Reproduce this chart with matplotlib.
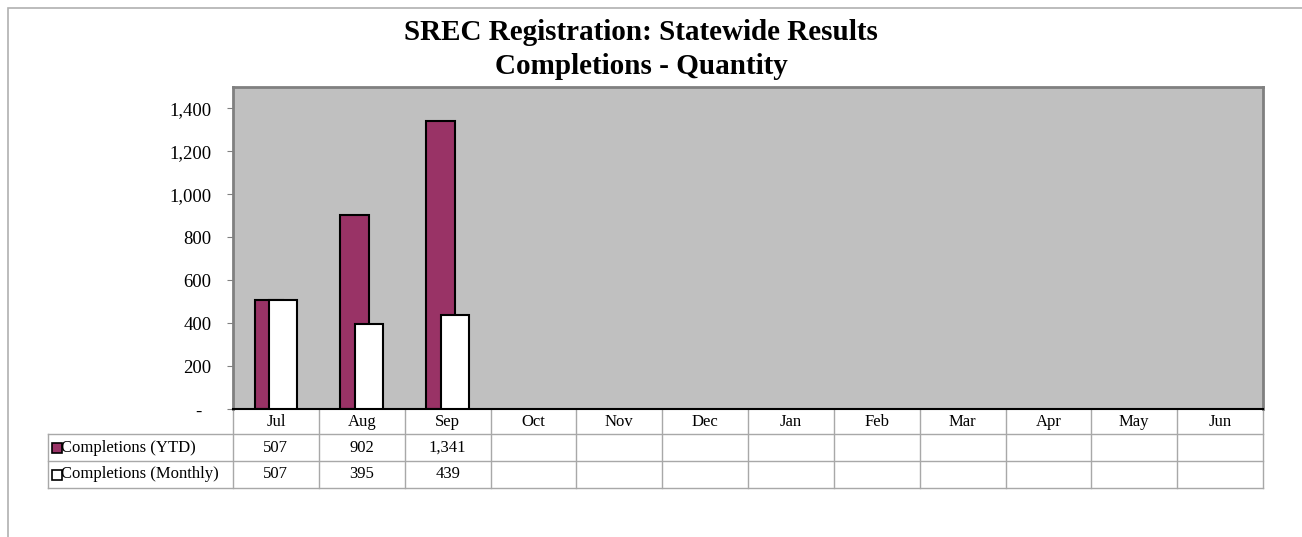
import matplotlib
matplotlib.use('Agg')
import matplotlib.pyplot as plt
import numpy as np
from matplotlib.lines import Line2D
from matplotlib.patches import Rectangle

plt.rcParams['font.family'] = ['Liberation Serif', 'DejaVu Serif']

months = ['Jul', 'Aug', 'Sep', 'Oct', 'Nov', 'Dec',
          'Jan', 'Feb', 'Mar', 'Apr', 'May', 'Jun']
ytd = [507, 902, 1341]
monthly = [507, 395, 439]
series_names = ['Completions (YTD)', 'Completions (Monthly)']
yticks = [0, 200, 400, 600, 800, 1000, 1200, 1400]

purple = '#993366'
W, H = 1302, 537

fig = plt.figure(figsize=(W / 100, H / 100), dpi=100)
# outer chart frame (left + top edges visible)
fig.patches.append(Rectangle((8 / W, -0.1), 1.2, 1 - 8 / H + 0.1,
                             transform=fig.transFigure, fill=False,
                             edgecolor='#b0b0b0', linewidth=1.2))

left, right, top, bottom = 233, 1263, 87, 409
ax = fig.add_axes([left / W, 1 - bottom / H, (right - left) / W, (bottom - top) / H])
ax.set_facecolor('#c0c0c0')

x = np.arange(len(ytd))
bw = 0.33
ax.bar(x - 0.083, ytd, width=bw, color=purple, edgecolor='black', linewidth=1.5, zorder=2)
xm = np.arange(len(monthly))
ax.bar(xm + 0.083, monthly, width=bw, color='white', edgecolor='black', linewidth=1.5, zorder=3)

ax.set_xlim(-0.5, len(months) - 0.5)
ax.set_ylim(0, 1500)
ax.set_xticks([])
ax.set_yticks(yticks)
ax.set_yticklabels(['-  ' if v == 0 else f'{v:,}' for v in yticks])
ax.tick_params(axis='y', labelsize=13.5, pad=11.5, length=4, color='#808080')
for s in ['top', 'right', 'left']:
    ax.spines[s].set_color('#808080')
    ax.spines[s].set_linewidth(2)
ax.spines['bottom'].set_color('black')
ax.spines['bottom'].set_linewidth(1.5)

# two-line title
fig.text(641 / W, 1 - 32 / H, 'SREC Registration: Statewide Results',
         ha='center', va='center', fontsize=21, fontweight='bold')
fig.text(641 / W, 1 - 67 / H, 'Completions - Quantity',
         ha='center', va='center', fontsize=21, fontweight='bold')

# data table under the plot
ph = bottom - top
rows = [(409 - y) / ph for y in (434, 461, 488)]
hdr_c = (409 - 421.5) / ph
row_c = [(409 - 447.5) / ph, (409 - 474.5) / ph]
lab_left = (48 - left) / (right - left)
xt = ax.get_xaxis_transform()
grid = '#a8a8a8'

for i in range(len(months) + 1):
    ax.add_line(Line2D([i - 0.5, i - 0.5], [0, rows[-1]], transform=xt,
                       color=grid, linewidth=1, clip_on=False))
for r in rows:
    ax.add_line(Line2D([lab_left, 1], [r, r], transform=ax.transAxes,
                       color=grid, linewidth=1, clip_on=False))
ax.add_line(Line2D([lab_left, lab_left], [rows[0], rows[-1]], transform=ax.transAxes,
                   color=grid, linewidth=1, clip_on=False))

for i, m in enumerate(months):
    ax.text(i, hdr_c, m, transform=xt, ha='center', va='center', fontsize=12)
for i, v in enumerate(ytd):
    ax.text(i, row_c[0], f'{v:,}', transform=xt, ha='center', va='center', fontsize=12)
for i, v in enumerate(monthly):
    ax.text(i, row_c[1], f'{v:,}', transform=xt, ha='center', va='center', fontsize=12)

key_x = (56.5 - left) / (right - left)
txt_x = (61 - left) / (right - left)
for yc, name, fc in zip(row_c, series_names, [purple, 'white']):
    ax.plot([key_x], [yc], marker='s', markersize=6.5, markerfacecolor=fc,
            markeredgecolor='black', markeredgewidth=1.2, transform=ax.transAxes,
            clip_on=False)
    ax.text(txt_x, yc, name, transform=ax.transAxes, ha='left', va='center', fontsize=12)

fig.savefig('out.png', dpi=100)
